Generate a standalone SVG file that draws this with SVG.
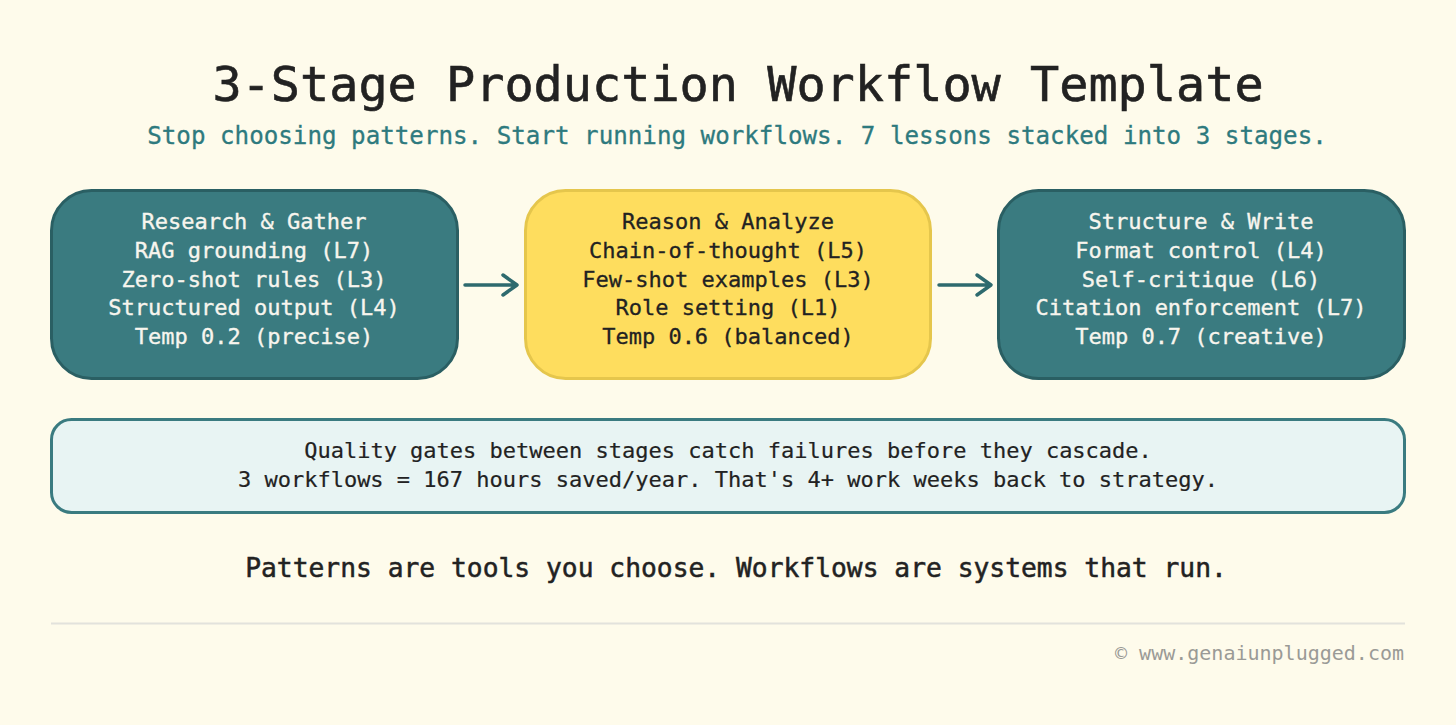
<svg xmlns="http://www.w3.org/2000/svg" width="1456" height="725" viewBox="0 0 1456 725">
  <defs>
    <style>
      text { font-family: "DejaVu Sans Mono", "Liberation Mono", monospace; text-anchor: middle; }
      .title { font-size: 48.5px; fill: #222222; stroke: #222222; stroke-width: 0.6px; }
      .sub { font-size: 24.2px; fill: #2e7a7e; stroke: #2e7a7e; stroke-width: 0.3px; }
      .teal rect { fill: #3a7b80; stroke: #2a5f63; stroke-width: 3; }
      .yellow rect { fill: #fedd5e; stroke: #e5c64c; stroke-width: 3; }
      .teal text { font-size: 22px; fill: #f7f5ee; stroke: #f7f5ee; stroke-width: 0.35px; }
      .yellow text { font-size: 22px; fill: #222222; stroke: #222222; stroke-width: 0.3px; }
      .note rect { fill: #e8f4f3; stroke: #3a7b80; stroke-width: 3; }
      .note text { font-size: 22px; fill: #222222; stroke: #222222; stroke-width: 0.2px; }
      .tag { font-size: 26.3px; fill: #222222; stroke: #222222; stroke-width: 0.5px; }
      .foot { font-size: 20px; fill: #9a9a96; text-anchor: end; }
      .conn { stroke: #2e6a6e; stroke-width: 3.5; fill: none; stroke-linecap: round; stroke-linejoin: round; }
    </style>
  </defs>
  <rect width="1456" height="725" fill="#fefbeb"/>
  <text class="title" x="738" y="101">3-Stage Production Workflow Template</text>
  <text class="sub" x="737" y="144">Stop choosing patterns. Start running workflows. 7 lessons stacked into 3 stages.</text>

  <g id="research" class="teal">
    <rect x="51.5" y="190.5" width="406" height="188" rx="40"/>
    <text x="254" y="229">Research &amp; Gather</text>
    <text x="254" y="258">RAG grounding (L7)</text>
    <text x="254" y="287">Zero-shot rules (L3)</text>
    <text x="254" y="315">Structured output (L4)</text>
    <text x="254" y="344">Temp 0.2 (precise)</text>
  </g>

  <g id="reason" class="yellow">
    <rect x="525.5" y="190.5" width="405" height="188" rx="40"/>
    <text x="728" y="229">Reason &amp; Analyze</text>
    <text x="728" y="258">Chain-of-thought (L5)</text>
    <text x="728" y="287">Few-shot examples (L3)</text>
    <text x="728" y="315">Role setting (L1)</text>
    <text x="728" y="344">Temp 0.6 (balanced)</text>
  </g>

  <g id="structure" class="teal">
    <rect x="998.5" y="190.5" width="406" height="188" rx="40"/>
    <text x="1201" y="229">Structure &amp; Write</text>
    <text x="1201" y="258">Format control (L4)</text>
    <text x="1201" y="287">Self-critique (L6)</text>
    <text x="1201" y="315">Citation enforcement (L7)</text>
    <text x="1201" y="344">Temp 0.7 (creative)</text>
  </g>

  <g id="connectors">
    <path class="conn" d="M465 285 H517 M503 275 L517 285 L503 295"/>
    <path class="conn" d="M939 285 H991 M977 275 L991 285 L977 295"/>
  </g>

  <g id="quality" class="note">
    <rect x="51.5" y="419.5" width="1353" height="93" rx="20"/>
    <text x="728" y="458">Quality gates between stages catch failures before they cascade.</text>
    <text x="728" y="487">3 workflows = 167 hours saved/year. That's 4+ work weeks back to strategy.</text>
  </g>

  <text class="tag" x="736" y="577">Patterns are tools you choose. Workflows are systems that run.</text>
  <line x1="51" y1="623.5" x2="1405" y2="623.5" stroke="#e2e2dc" stroke-width="2"/>
  <text class="foot" x="1404" y="660">© www.genaiunplugged.com</text>
</svg>
